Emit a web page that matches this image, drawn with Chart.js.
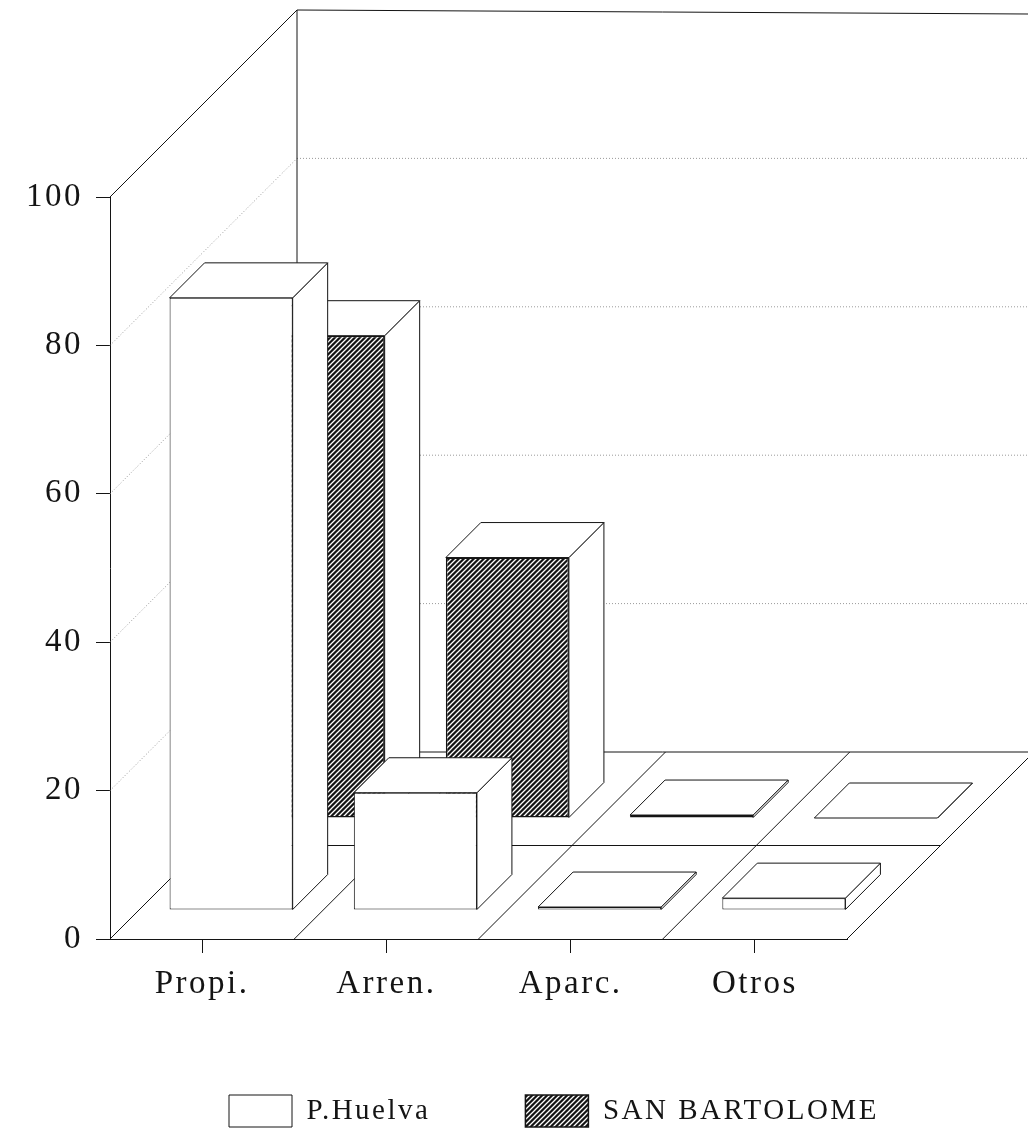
<!DOCTYPE html>
<html>
<head>
<meta charset="utf-8">
<style>
  html, body { margin: 0; padding: 0; background: #fff; }
  canvas { display: block; }
</style>
<script src="https://cdn.jsdelivr.net/npm/chart.js@4/dist/chart.umd.min.js"></script>
</head>
<body>
<canvas id="chart" width="1028" height="1132"></canvas>
<script>
const categories = ["Propi.", "Arren.", "Aparc.", "Otros"];
const huelva = [82.5, 15.8, 0.4, 1.6];
const sanBartolome = [65, 35.1, 0.4, 0];
const yTicks = [0, 20, 40, 60, 80, 100];

const FONT = "'Liberation Serif', serif";
const INK = "#141414";
const WALL_DEPTH = 187;   // depth of the whole box
const BAR_DEPTH = 35;     // extrusion of a bar
const ROW_SHIFT = [29, 121]; // how far back each series row stands
const LEGEND_GAP = 95;
const LEGEND_BOX_H = 32;
const X_AXIS_H = 70;
const AXIS_BOTTOM = 939;

function hatch() {
  const c = document.createElement("canvas");
  c.width = c.height = 5;
  const g = c.getContext("2d");
  g.fillStyle = "#141414";
  g.fillRect(0, 0, 5, 5);
  g.strokeStyle = "#fff";
  g.lineWidth = 1.3;
  g.beginPath();
  g.moveTo(-1, 1); g.lineTo(1, -1);
  g.moveTo(-1, 6); g.lineTo(6, -1);
  g.moveTo(4, 6); g.lineTo(6, 4);
  g.stroke();
  return g.createPattern(c, "repeat");
}

function line(ctx, x1, y1, x2, y2) {
  ctx.beginPath();
  ctx.moveTo(x1, y1);
  ctx.lineTo(x2, y2);
  ctx.stroke();
}

function poly(ctx, pts) {
  ctx.beginPath();
  pts.forEach((p, i) => i ? ctx.lineTo(p[0], p[1]) : ctx.moveTo(p[0], p[1]));
  ctx.closePath();
  ctx.fill();
  ctx.stroke();
}

// back walls and floor of the 3d box
const box3d = {
  id: "box3d",
  beforeUpdate(chart) { chart.ctx.letterSpacing = "2.5px"; },
  afterLayout(chart) {
    // legend sits under the axis labels, off centre like the original
    chart.legend.left = 229 - LEGEND_GAP;
    chart.legend.right = chart.width + LEGEND_GAP * 2;
    chart.legend.top = 1095 - LEGEND_GAP;
  },
  beforeDatasetsDraw(chart) {
    const { ctx, chartArea: a, scales: { x, y } } = chart;
    const d = WALL_DEPTH;
    ctx.save();
    ctx.lineWidth = 1;

    ctx.strokeStyle = "#9a9a9a";
    ctx.setLineDash([1, 2]);
    yTicks.slice(1, -1).forEach(v => {
      const p = y.getPixelForValue(v);
      line(ctx, a.left, p, a.left + d, p - d);
      line(ctx, a.left + d, p - d, chart.width, p - d);
    });
    ctx.setLineDash([]);

    ctx.strokeStyle = INK;
    const top = y.getPixelForValue(100);
    const zero = y.getPixelForValue(0);
    line(ctx, a.left, top, a.left + d, top - d);
    line(ctx, a.left + d, top - d, chart.width, top - d + 4);
    line(ctx, a.left + d, top - d, a.left + d, zero - d);
    line(ctx, a.left + d, zero - d, chart.width, zero - d);

    // floor: one divider per category edge, one between the rows
    categories.forEach((c, i) => {
      const edge = x.getPixelForValue(i) - (x.getPixelForValue(1) - x.getPixelForValue(0)) / 2;
      line(ctx, edge, zero, edge + d, zero - d);
    });
    line(ctx, a.right, zero, a.right + d, zero - d);
    line(ctx, a.left + d / 2, zero - d / 2, a.right + d / 2, zero - d / 2);
    ctx.restore();
  },
  // native bar is the front face, pushed back along the floor; top and side are added here
  beforeDatasetDraw(chart, args) {
    const { ctx } = chart;
    const s = ROW_SHIFT[args.index];
    const d = BAR_DEPTH;
    ctx.save();
    ctx.translate(s, -s);
    ctx.lineWidth = 1;
    ctx.strokeStyle = INK;
    ctx.fillStyle = "#fff";
    args.meta.data.forEach(b => {
      const l = b.x - b.width / 2, r = b.x + b.width / 2;
      poly(ctx, [[r, b.y], [r + d, b.y - d], [r + d, b.base - d], [r, b.base]]);
      poly(ctx, [[l, b.y], [l + d, b.y - d], [r + d, b.y - d], [r, b.y]]);
    });
  },
  afterDatasetDraw(chart) {
    chart.ctx.restore();
  },
  beforeDraw(chart) { chart.ctx.letterSpacing = "2.5px"; },
};

new Chart(document.getElementById("chart"), {
  type: "bar",
  data: {
    labels: categories,
    datasets: [
      { label: "P.Huelva", data: huelva, backgroundColor: "#fff", borderColor: INK, borderWidth: 1, borderSkipped: false, clip: false },
      { label: "SAN BARTOLOME", data: sanBartolome, backgroundColor: hatch(), borderColor: INK, borderWidth: 1.5, borderSkipped: false, clip: false },
    ],
  },
  options: {
    responsive: false,
    animation: false,
    grouped: false,
    barPercentage: 0.668,
    categoryPercentage: 1,
    layout: {
      padding: {
        top: 197,
        right: 181,
        left: 0,
        // legend is moved by hand in afterLayout, so its reserved height may run off the canvas
        bottom: 1132 - (AXIS_BOTTOM + X_AXIS_H + LEGEND_GAP + LEGEND_BOX_H + 10),
      },
    },
    plugins: {
      tooltip: { enabled: false },
      legend: {
        position: "bottom",
        align: "start",
        labels: {
          color: INK,
          font: { family: FONT, size: 29 },
          boxWidth: 63,
          boxHeight: LEGEND_BOX_H,
          padding: LEGEND_GAP,
        },
      },
    },
    scales: {
      x: {
        afterFit: s => { s.height = X_AXIS_H; },
        grid: { drawOnChartArea: false, offset: false, tickLength: 14, color: INK },
        border: { color: INK },
        ticks: { color: INK, font: { family: FONT, size: 33 }, padding: 12, maxRotation: 0 },
      },
      y: {
        min: 0,
        max: 100,
        afterFit: s => { s.width = 110; },
        afterBuildTicks: s => { s.ticks = yTicks.map(v => ({ value: v })); },
        grid: { drawOnChartArea: false, tickLength: 14, color: INK },
        border: { color: INK },
        ticks: { color: INK, font: { family: FONT, size: 33 }, padding: 13 },
      },
    },
  },
  plugins: [box3d],
});
</script>
</body>
</html>
